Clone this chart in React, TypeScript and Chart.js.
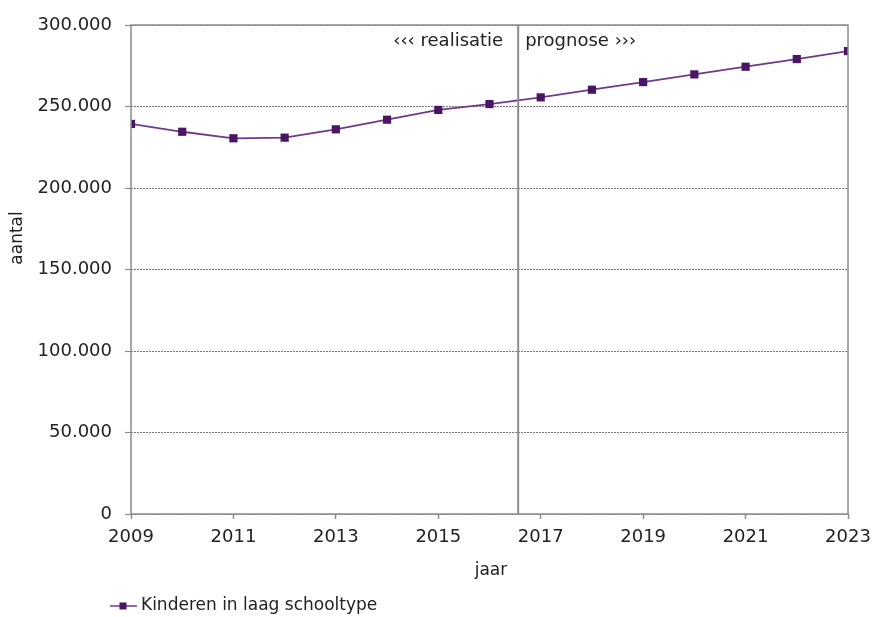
import React, { useEffect, useRef } from "react";
import { Chart, registerables } from "chart.js";

Chart.register(...registerables);

const years = [2009, 2010, 2011, 2012, 2013, 2014, 2015, 2016, 2017, 2018, 2019, 2020, 2021, 2022, 2023];
const kinderen = [239300, 234500, 230500, 230900, 236000, 241900, 247900, 251500, 255600, 260300, 265000, 269700, 274400, 279100, 284000];
const seriesLabel = "Kinderen in laag schooltype";
const splitYear = 2016.56;
const leftText = "‹‹‹ realisatie";
const rightText = "prognose ›››";
const xTicks = [2009, 2011, 2013, 2015, 2017, 2019, 2021, 2023];
const xTitle = "jaar";
const yTitle = "aantal";

const FONT = "'DejaVu Sans', Verdana, sans-serif";
const LINE = "#6e3a8a";
const MARK = "#4a1565";
const TEXT = "#222";

const fmt = (v: number) => v.toLocaleString("de-DE");

const overlay = {
  id: "overlay",
  afterDatasetsDraw(chart: any) {
    const { ctx, chartArea: a, scales } = chart;
    ctx.save();
    // frame
    ctx.strokeStyle = "#8c8c8c";
    ctx.lineWidth = 1.5;
    ctx.strokeRect(a.left, a.top, a.right - a.left, a.bottom - a.top);
    // split line
    const x = scales.x.getPixelForValue(splitYear);
    ctx.strokeStyle = "#8c8c8c";
    ctx.lineWidth = 2;
    ctx.beginPath();
    ctx.moveTo(x, a.top);
    ctx.lineTo(x, a.bottom);
    ctx.stroke();
    ctx.fillStyle = TEXT;
    ctx.font = `18px ${FONT}`;
    ctx.textBaseline = "middle";
    ctx.textAlign = "right";
    ctx.fillText(leftText, x - 15, a.top + 16);
    ctx.textAlign = "left";
    ctx.fillText(rightText, x + 7, a.top + 16);
    // axis titles
    ctx.font = `17px ${FONT}`;
    ctx.textAlign = "center";
    ctx.fillText(xTitle, 491, 571);
    ctx.save();
    ctx.translate(18, 238);
    ctx.rotate(-Math.PI / 2);
    ctx.fillText(yTitle, 0, 0);
    ctx.restore();
    // legend
    const ly = 606;
    ctx.strokeStyle = LINE;
    ctx.lineWidth = 1.5;
    ctx.beginPath();
    ctx.moveTo(110, ly);
    ctx.lineTo(137, ly);
    ctx.stroke();
    ctx.fillStyle = MARK;
    ctx.fillRect(119.5, ly - 3.5, 7, 7);
    ctx.fillStyle = TEXT;
    ctx.font = `17px ${FONT}`;
    ctx.textAlign = "left";
    ctx.fillText(seriesLabel, 141, ly);
    ctx.restore();
  },
};

export default function App() {
  const ref = useRef<HTMLCanvasElement>(null);
  useEffect(() => {
    const chart = new Chart(ref.current!, {
      type: "line",
      data: {
        labels: years,
        datasets: [
          {
            label: seriesLabel,
            data: years.map((y, i) => ({ x: y, y: kinderen[i] })),
            borderColor: LINE,
            borderWidth: 1.8,
            pointStyle: "rect",
            pointRadius: 5.8,
            pointBackgroundColor: MARK,
            pointBorderColor: MARK,
            pointBorderWidth: 0,
            tension: 0,
          },
        ],
      },
      options: {
        animation: false,
        responsive: false,
        maintainAspectRatio: false,
        layout: { padding: { left: 0, right: 26, top: 25, bottom: 0 } },
        plugins: { legend: { display: false }, tooltip: { enabled: false } },
        scales: {
          x: {
            type: "linear",
            min: 2009,
            max: 2023,
            afterBuildTicks: (s: any) => {
              s.ticks = xTicks.map((v) => ({ value: v }));
            },
            afterFit: (s: any) => {
              s.height = 103;
              s.paddingLeft = 0;
              s.paddingRight = 0;
            },
            ticks: {
              color: TEXT,
              font: { family: FONT, size: 18 },
              padding: 8,
              maxRotation: 0,
              callback: (v: any) => String(v),
            },
            grid: { drawOnChartArea: false, drawTicks: true, tickLength: 5, tickColor: "#8c8c8c", tickWidth: 1.5 },
            border: { display: false },
          },
          y: {
            min: 0,
            max: 300000,
            afterFit: (s: any) => {
              s.width = 131;
              s.paddingTop = 0;
              s.paddingBottom = 0;
            },
            ticks: {
              stepSize: 50000,
              color: TEXT,
              font: { family: FONT, size: 18 },
              padding: 13,
              callback: (v: any) => fmt(Number(v)),
            },
            grid: {
              color: "#555",
              lineWidth: 0.8,
              drawTicks: true,
              tickLength: 6,
              tickColor: "#8c8c8c",
              tickWidth: 1.2,
            },
            border: { display: false, dash: [2, 1] },
          },
        },
      },
      plugins: [overlay],
    } as any);
    return () => chart.destroy();
  }, []);
  return (
    <div style={{ position: "absolute", left: 0, top: 0, width: 874, height: 617, background: "#fff" }}>
      <canvas ref={ref} width={874} height={617} style={{ width: 874, height: 617 }} />
    </div>
  );
}
